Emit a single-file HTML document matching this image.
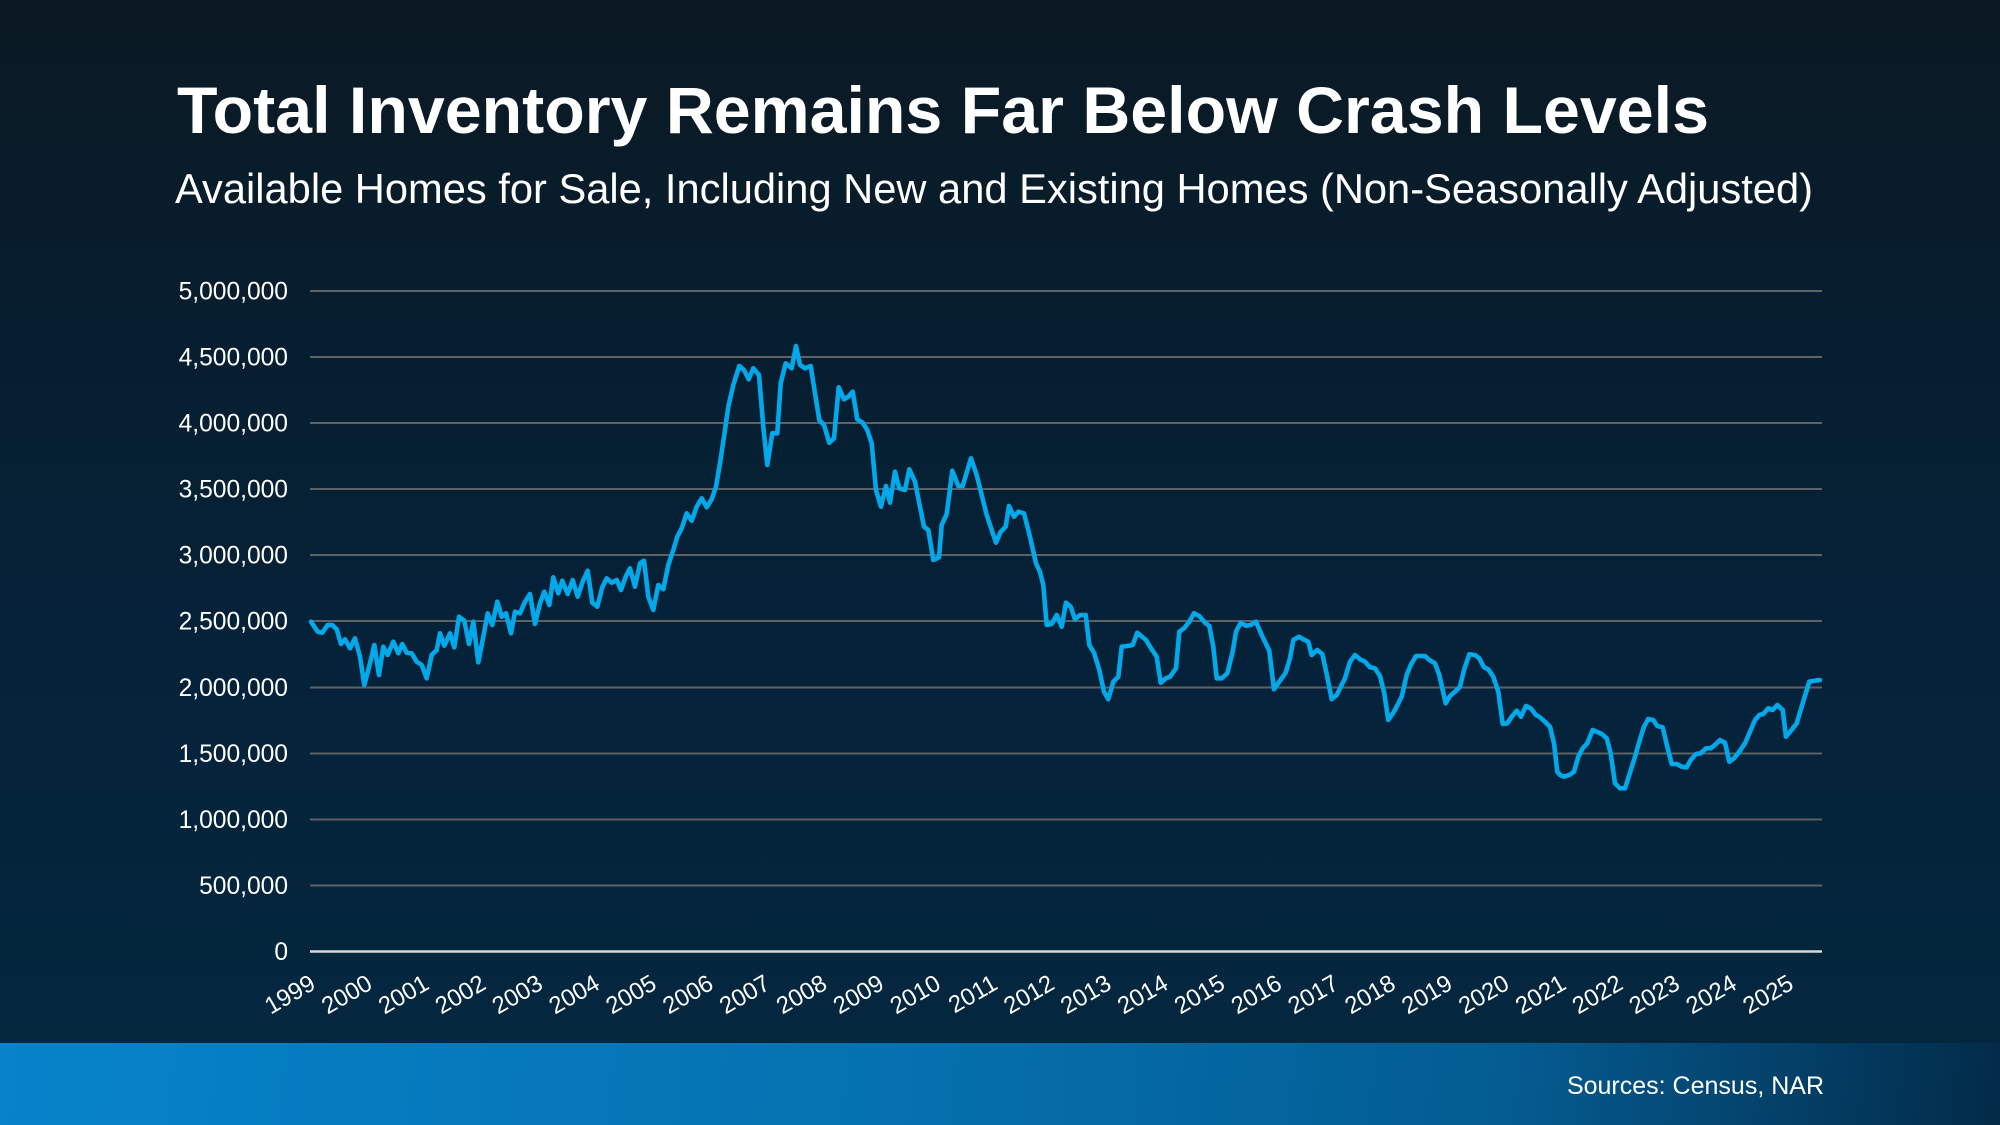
<!DOCTYPE html>
<html>
<head>
<meta charset="utf-8">
<style>
  html,body{margin:0;padding:0;width:2000px;height:1125px;overflow:hidden;background:#05223a;}
  svg{display:block;}
  text{font-family:"Liberation Sans", Arial, sans-serif;}
</style>
</head>
<body>
<svg width="2000" height="1125" viewBox="0 0 2000 1125" xmlns="http://www.w3.org/2000/svg">
  <defs>
    <linearGradient id="bg" x1="0" y1="0" x2="0" y2="1">
      <stop offset="0" stop-color="#0b1923"/>
      <stop offset="0.3" stop-color="#071e30"/>
      <stop offset="0.65" stop-color="#05233b"/>
      <stop offset="1" stop-color="#03283f"/>
    </linearGradient>
    <linearGradient id="band" gradientUnits="userSpaceOnUse" x1="0" y1="1000" x2="2000" y2="1200">
      <stop offset="0" stop-color="#0783cb"/>
      <stop offset="0.45" stop-color="#0571af"/>
      <stop offset="0.75" stop-color="#045c92"/>
      <stop offset="1" stop-color="#032a47"/>
    </linearGradient>
  </defs>
  <rect x="0" y="0" width="2000" height="1125" fill="url(#bg)"/>
  <rect x="0" y="1043" width="2000" height="82" fill="url(#band)"/>

  <text x="177" y="133" font-size="66" font-weight="bold" fill="#ffffff" textLength="1532" lengthAdjust="spacingAndGlyphs">Total Inventory Remains Far Below Crash Levels</text>
  <text x="175" y="203" font-size="41.5" fill="#ffffff" textLength="1638" lengthAdjust="spacingAndGlyphs">Available Homes for Sale, Including New and Existing Homes (Non-Seasonally Adjusted)</text>

  <!-- gridlines -->
  <g stroke="#5e6265" stroke-width="2">
    <line x1="310" y1="291" x2="1822" y2="291"/>
    <line x1="310" y1="357" x2="1822" y2="357"/>
    <line x1="310" y1="423" x2="1822" y2="423"/>
    <line x1="310" y1="489" x2="1822" y2="489"/>
    <line x1="310" y1="555" x2="1822" y2="555"/>
    <line x1="310" y1="621" x2="1822" y2="621"/>
    <line x1="310" y1="687.5" x2="1822" y2="687.5"/>
    <line x1="310" y1="753.5" x2="1822" y2="753.5"/>
    <line x1="310" y1="819.5" x2="1822" y2="819.5"/>
    <line x1="310" y1="885.5" x2="1822" y2="885.5"/>
  </g>
  <line x1="310" y1="951.5" x2="1822" y2="951.5" stroke="#d9d9d9" stroke-width="2.5"/>

  <!-- y labels -->
  <g font-size="24.6" fill="#ffffff" text-anchor="end">
    <text x="288" y="299.5">5,000,000</text>
    <text x="288" y="365.5">4,500,000</text>
    <text x="288" y="431.5">4,000,000</text>
    <text x="288" y="497.5">3,500,000</text>
    <text x="288" y="563.5">3,000,000</text>
    <text x="288" y="629.5">2,500,000</text>
    <text x="288" y="696">2,000,000</text>
    <text x="288" y="762">1,500,000</text>
    <text x="288" y="828">1,000,000</text>
    <text x="288" y="894">500,000</text>
    <text x="288" y="960">0</text>
  </g>

  <!-- x labels -->
  <g font-size="24" fill="#ffffff" text-anchor="end">
    <text transform="translate(317,988) rotate(-30)">1999</text>
    <text transform="translate(373.85,988) rotate(-30)">2000</text>
    <text transform="translate(430.7,988) rotate(-30)">2001</text>
    <text transform="translate(487.55,988) rotate(-30)">2002</text>
    <text transform="translate(544.4,988) rotate(-30)">2003</text>
    <text transform="translate(601.25,988) rotate(-30)">2004</text>
    <text transform="translate(658.1,988) rotate(-30)">2005</text>
    <text transform="translate(714.95,988) rotate(-30)">2006</text>
    <text transform="translate(771.8,988) rotate(-30)">2007</text>
    <text transform="translate(828.65,988) rotate(-30)">2008</text>
    <text transform="translate(885.5,988) rotate(-30)">2009</text>
    <text transform="translate(942.35,988) rotate(-30)">2010</text>
    <text transform="translate(999.2,988) rotate(-30)">2011</text>
    <text transform="translate(1056.05,988) rotate(-30)">2012</text>
    <text transform="translate(1112.9,988) rotate(-30)">2013</text>
    <text transform="translate(1169.75,988) rotate(-30)">2014</text>
    <text transform="translate(1226.6,988) rotate(-30)">2015</text>
    <text transform="translate(1283.45,988) rotate(-30)">2016</text>
    <text transform="translate(1340.3,988) rotate(-30)">2017</text>
    <text transform="translate(1397.15,988) rotate(-30)">2018</text>
    <text transform="translate(1454,988) rotate(-30)">2019</text>
    <text transform="translate(1510.85,988) rotate(-30)">2020</text>
    <text transform="translate(1567.7,988) rotate(-30)">2021</text>
    <text transform="translate(1624.55,988) rotate(-30)">2022</text>
    <text transform="translate(1681.4,988) rotate(-30)">2023</text>
    <text transform="translate(1738.25,988) rotate(-30)">2024</text>
    <text transform="translate(1795.1,988) rotate(-30)">2025</text>
  </g>

  <!-- series -->
  <polyline fill="none" stroke="#02a9ea" stroke-width="4.6" stroke-linejoin="round" stroke-linecap="round" points="
311,621.7 317.7,631.7 322.3,632.7 327.7,625 332.3,625 336.7,629.3 341,644 345,639.3 350,648.3 355,638.3 360,656.7 364.3,685 370,663.3 374.3,645 379,675 383.3,646.7 387.7,655 393.3,641.7 398.3,653.3 402.3,644 406.7,652.7 411.7,653.3 416.7,661.7 421.7,665 426.7,678.3 431.7,655 436.7,650 440,633.3 444.3,645.7 450,633.3 454.3,647.3 459,616.7 464.3,620.7 469,644 473.3,621.7 478.3,662.3 483.3,636.7 487.7,613.3 492.3,625 497.3,601.7 501.7,616.7 506,613.3 511,633.3 515,611.7 520,613.3 525,601.7 530,594 535,624 540,603.3 544.3,591.7 549.3,605 553.3,577.3 558.3,593.3 562.3,580.7 567.7,594 572.7,580 577.7,596.7 582.7,581.7 587.7,570.7 592.3,602.7 597.3,606.7 602.3,587.3 606.7,578.3 611.7,582.7 616.7,580 621,590 625.7,576.7 630,568.3 635,586.7
640,563.3 644,560.7 648.3,596.7 653.3,610 658.3,585 663.3,589.3 668.3,565 673.3,550 677.3,536.7 681.7,528.3 686.7,513.3 691.7,520.7 696.7,506.7 701.7,498.3 706.7,507.3 711.7,499.3 716,486.7 720,463.3 724,436.7 728.3,406.7 733.3,385 739.3,366 744,370 748.7,379.3 753.3,368.3 759,375 763.3,426.7 767.3,465 772.3,433.3 777.3,433.3 780.7,383.3 785.7,363.3 791.7,368.3 796,346 800,365 805,368.3 810.7,366 815,393.3 819.3,420 824,425 829.3,442.7 834,438.3 838.7,387.3 844,399.3 848.3,396.7 852.7,391.7 857.3,419.3 862.7,422.7 867.3,430 871.7,443.3 876,490 881,506.7 886,486 890,502.7 895,471.7 899.3,488.3 905,490 909.3,469.3 915,481.7 919.3,503.3 924,526.7 928.3,530 933.3,560 939,557.3 941.7,525 946.7,514 952.3,470.7 958.3,486 962.7,486 971,458.3 976.7,475 986.7,515 996,542.7 1000.7,531.7 1005.7,526.7 1009,506 1014,516.7 1018.3,511.7 1024,513.3 1030,536.7 1036,563.3
1040,572 1043.3,585 1046.7,625 1051.7,624 1056.7,615 1061.7,626.7 1066,602.7 1070.7,606.7 1075,619.3 1080,615 1085.7,615 1089.3,645 1094,652.7 1099.3,670 1104,691.7 1108.3,699.3 1113.3,681.7 1118.3,676.7 1121.7,646.7 1127.3,646 1132.7,645 1137.3,632.7 1146,640 1151.7,649.3 1156.7,656.7 1160.7,682.7 1166,678.3 1170,676.7 1176,668.3 1179.3,631.7 1184,628.3 1189.3,621.7 1194,613.3 1199.3,616 1205,622.7 1209.3,626 1213.3,646.7 1216.7,678.3 1221.7,678.3 1227.3,673.3 1232.7,651.7 1236,631.7 1240.7,622.7 1246,625.7 1250.7,625 1256,621.7 1261.7,635 1269.3,650.7 1274,689.3 1280,680.7 1285.7,672.7 1290,658.3 1293.3,640 1299,636.7 1303.3,639.3 1308.3,641.7 1311.7,655 1317.3,650 1322.3,654 1326.7,674 1331.7,699.3 1336.7,695 1345,678.3 1350,661.7 1355,655 1360,659.3 1365,661.7 1370,667.3 1375,668.3 1380,676 1384.3,693.3 1388.3,720 1394,711.7 1401.7,696.7 1406.7,675 1410.7,665 1416,656
1420,656 1425,656 1429.3,660 1435,663.3 1439.3,675 1442.7,690 1445.7,703.3 1450,696 1455,691.7 1460,686.7 1464,670 1469.3,654.3 1475,655 1479.3,658.3 1484,667.3 1488.3,669.3 1493.3,676.7 1498.3,691.7 1502.7,724 1507.3,723.3 1511.7,716.7 1516.7,710.7 1521,716.7 1526,706 1530.7,708.3 1536,715 1540,717.3 1545,721.7 1550,726.7 1554,743.3 1557.3,771.7 1560,775 1564,776.7 1569.3,775 1574,771.7 1578.3,756.7 1582.7,748.3 1587.3,743.3 1592.7,730 1596.7,731.7 1601.7,734 1606.7,738.3 1610.7,753.3 1615,783.3 1620,788.3 1625,788.3 1630,772.7 1635,756.7 1640,739.3 1644,726.7 1648.3,719 1653.3,720 1657.3,726 1662.7,727.3 1667.3,746.7 1671.7,764 1676.7,764 1681.7,766.7 1686.7,767.3 1690.7,760 1696,754 1700.7,753.3 1706,748.3 1710.7,748.3 1716,744 1720,740 1725,742.7 1729.3,761.7 1734,758.3 1739.3,751.7 1745,743.3 1750,731.7 1755,720 1759.3,715 1763.3,714 1768.3,708.3 1772.7,710 1777.3,705 1782.7,710 1786,736.7 1791,730.7 1796.7,723.3 1802.7,703.3 1809.3,681.7 1815,680.7 1820,680"/>

  <text x="1824" y="1094" font-size="25" fill="#ffffff" text-anchor="end">Sources: Census, NAR</text>
</svg>
</body>
</html>
